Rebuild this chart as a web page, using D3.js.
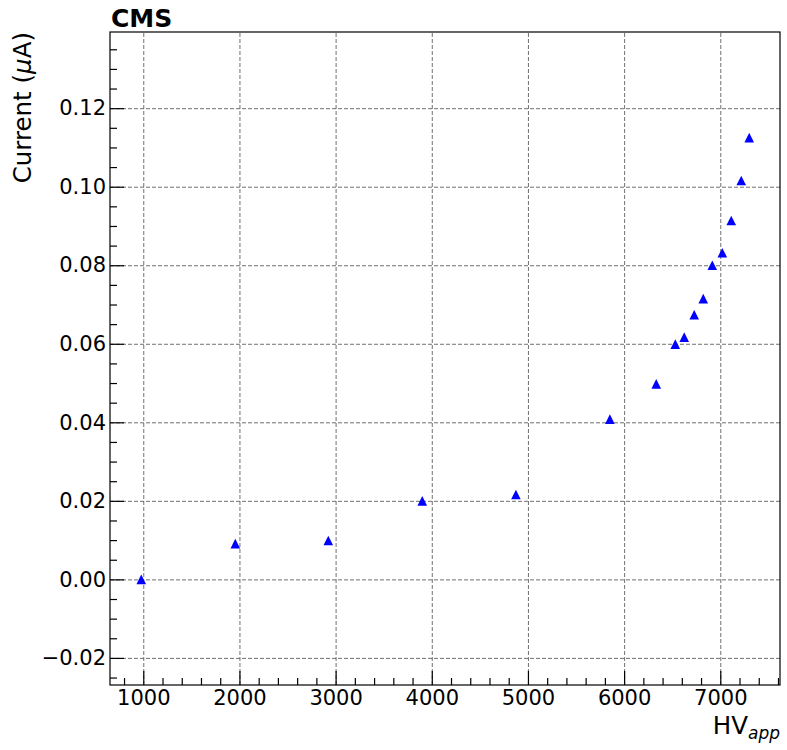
<!DOCTYPE html>
<html>
<head>
<meta charset="utf-8">
<script src="https://cdn.jsdelivr.net/npm/d3@7"></script>
<style>
  body { margin: 0; background: #fff; }
  svg text { font-family: "DejaVu Sans", sans-serif; }
  .grid line { stroke: #606060; stroke-width: 0.9; stroke-dasharray: 4,2; }
  .grid path { display: none; }
  .axis path, .axis line { stroke: #000; stroke-width: 1.2; }
  .axis text { font-family: "DejaVu Sans", sans-serif; font-size: 21px; fill: #000; }
</style>
</head>
<body>
<div id="chart"></div>
<script>
// measured HV (V) and current (uA)
var hvValues      = [979, 1957, 2924, 3901, 4875, 5852, 6334, 6532, 6625, 6729, 6823, 6917, 7021, 7114, 7218, 7301];
var currentValues = [0.0, 0.0091, 0.0099, 0.0200, 0.0216, 0.0408, 0.0498, 0.0599, 0.0617, 0.0674, 0.0715, 0.0800, 0.0832, 0.0914, 0.1016, 0.1125];

var xTickValues = [1000, 2000, 3000, 4000, 5000, 6000, 7000];
var yTickValues = [-0.02, 0.00, 0.02, 0.04, 0.06, 0.08, 0.10, 0.12];
var xDomain = [654, 7621];
var yDomain = [-0.0269, 0.1394];

var width  = 787;
var height = 750;
var margin = {top: 32, right: 7, bottom: 65, left: 110};
var w = width - margin.left - margin.right;
var h = height - margin.top - margin.bottom;

var svg = d3.select("#chart").append("svg")
  .attr("width", width)
  .attr("height", height);

var g = svg.append("g")
  .attr("transform", "translate(" + margin.left + "," + margin.top + ")");

var xScale = d3.scaleLinear().domain(xDomain).range([0, w]);
var yScale = d3.scaleLinear().domain(yDomain).range([h, 0]);

// minor tick positions
var xMinor = d3.range(800, 7601, 200).filter(function(v) { return v % 1000 != 0; });
var yMinor = d3.range(-25, 136, 5).map(function(v) { return v / 1000; })
  .filter(function(v) { return Math.abs(Math.round(v * 1000) % 20) != 0; });

// grid
g.append("g")
  .attr("class", "grid")
  .attr("transform", "translate(0," + h + ")")
  .call(d3.axisBottom(xScale).tickValues(xTickValues).tickSize(-h).tickFormat(""));
g.append("g")
  .attr("class", "grid")
  .call(d3.axisLeft(yScale).tickValues(yTickValues).tickSize(-w).tickFormat(""));

// points (matplotlib style "^" markers)
function triangle(cx, cy, s) {
  return "M" + cx + "," + (cy - s) + "L" + (cx + s) + "," + (cy + s) + "L" + (cx - s) + "," + (cy + s) + "Z";
}
g.selectAll("path.pt")
  .data(hvValues)
  .enter().append("path")
  .attr("class", "pt")
  .attr("fill", "#0000ff")
  .attr("d", function(d, i) { return triangle(xScale(d), yScale(currentValues[i]), 4.8); });

// frame
g.append("rect")
  .attr("width", w)
  .attr("height", h)
  .attr("fill", "none")
  .attr("stroke", "#000")
  .attr("stroke-width", 1.2);

// axes, ticks pointing inward
g.append("g")
  .attr("class", "axis")
  .attr("transform", "translate(0," + h + ")")
  .call(d3.axisBottom(xScale).tickValues(xMinor).tickSize(-7).tickFormat(""))
  .call(function(s) { s.select(".domain").remove(); });
g.append("g")
  .attr("class", "axis")
  .attr("transform", "translate(0," + h + ")")
  .call(d3.axisBottom(xScale).tickValues(xTickValues).tickSize(-14).tickPadding(5).tickFormat(d3.format("d")))
  .call(function(s) { s.select(".domain").remove(); });

g.append("g")
  .attr("class", "axis")
  .call(d3.axisLeft(yScale).tickValues(yMinor).tickSize(-7).tickFormat(""))
  .call(function(s) { s.select(".domain").remove(); });
g.append("g")
  .attr("class", "axis")
  .call(d3.axisLeft(yScale).tickValues(yTickValues).tickSize(-14).tickPadding(4).tickFormat(d3.format(".2f")))
  .call(function(s) { s.select(".domain").remove(); });

// labels
svg.append("text")
  .attr("x", margin.left + 1)
  .attr("y", 27)
  .style("font-size", "25px")
  .style("font-weight", "bold")
  .text("CMS");

var xl = svg.append("text")
  .attr("x", margin.left + w)
  .attr("y", 734)
  .attr("text-anchor", "end")
  .style("font-size", "24.5px");
xl.append("tspan").text("HV");
xl.append("tspan")
  .attr("dy", 5)
  .style("font-size", "17px")
  .style("font-style", "italic")
  .text("app");

var yl = svg.append("text")
  .attr("transform", "translate(31," + margin.top + ") rotate(-90)")
  .attr("text-anchor", "end")
  .style("font-size", "24.5px");
yl.append("tspan").text("Current (");
yl.append("tspan").style("font-style", "italic").text("μ");
yl.append("tspan").text("A)");
</script>
</body>
</html>
